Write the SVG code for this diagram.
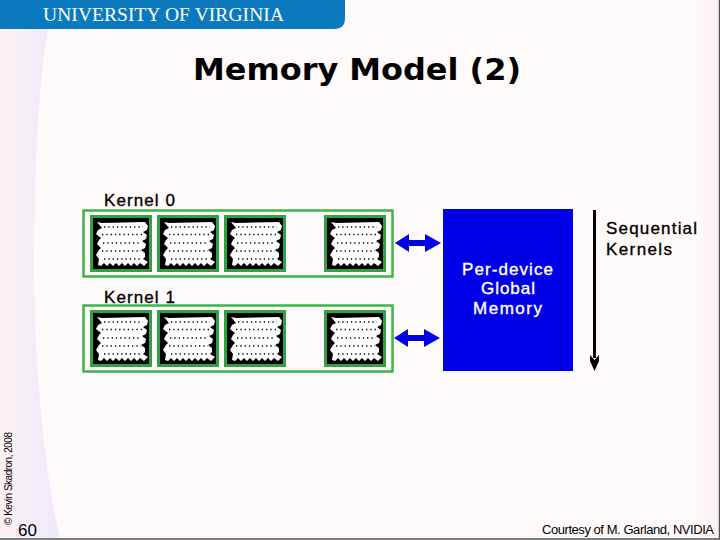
<svg xmlns="http://www.w3.org/2000/svg" xmlns:xlink="http://www.w3.org/1999/xlink" width="720" height="540" viewBox="0 0 720 540">
<style>
.sans{font-family:"Liberation Sans",Arial,sans-serif;fill:#000}
.lbl{font-size:17px;stroke:#000;stroke-width:.35px}
.inv{fill:#fff;stroke:#fff}
.outer{fill:none;stroke:#3cb44a;stroke-width:2.5}
.chip{fill:#000;stroke:#32a044;stroke-width:3}
.wave{fill:#fff}
.dots{fill:none;stroke:#000;stroke-width:1.5;stroke-dasharray:1.3 3}
</style>
<defs>
<linearGradient id="band" x1="0" x2="1" y1="0" y2="0"><stop offset="0" stop-color="#fdf2f6"/><stop offset="1" stop-color="#ece9fa"/></linearGradient>
<linearGradient id="rband" x1="0" x2="1" y1="0" y2="0"><stop offset="0" stop-color="#fffafa"/><stop offset="1" stop-color="#fbf0f3"/></linearGradient>
<g id="chip">
<rect class="chip" x="1.500" y="1.500" width="59" height="54"/>
<path class="wave" d="M7 7 L12 8 L55 7 L58 11 L57 15 L53 17 L57 20 L56 24 L52 26 L56 29 L55 33 L51 35 L55 38 L55 42 L53 44 L58 47 L54 51 L50 48 L47 51 L44 48 L41 51 L38 48 L35 51 L32 48 L29 51 L26 48 L23 51 L20 48 L17 51 L14 48 L11 51 L8 50 L9 44 L6 40 L9 35 L11 33 L7 29 L9 25 L11 23 L6 19 L8 15 L12 13 Z"/>
<path class="dots" d="M14 12H53M12 19.500H52M13 28H51M12 36H51M14 44H50"/>
</g>
<g id="dbl"><path fill="#0000e6" d="M0 0 L14 -9 L14 -3 L30 -3 L30 -9 L46 0 L30 9 L30 3 L14 3 L14 9 Z"/></g>
</defs>
<rect id="bg" width="720" height="540" fill="#fffafa"/>
<rect id="rightband" x="695" y="0" width="25" height="540" fill="url(#rband)"/>
<path id="leftband" d="M0 29H48C38 90 35 160 34 260C34 350 42 460 60 538H0Z" fill="url(#band)"/>
<path id="header" d="M0 0H345V18Q345 29 334 29H0Z" fill="#0a79bd"/>
<text x="43" y="21" font-family="'Liberation Serif',serif" font-size="19.5" fill="#fff" textLength="241">UNIVERSITY OF VIRGINIA</text>
<text x="193" y="80" font-family="'DejaVu Sans',sans-serif" font-weight="700" font-size="30" fill="#000" textLength="328" lengthAdjust="spacingAndGlyphs">Memory Model (2)</text>
<g id="kernel0">
<text class="sans lbl" x="104" y="206" textLength="71">Kernel 0</text>
<rect class="outer" x="83.500" y="210.500" width="309" height="66"/>
<use xlink:href="#chip" href="#chip" x="90" y="215"/>
<use xlink:href="#chip" href="#chip" x="157" y="215"/>
<use xlink:href="#chip" href="#chip" x="224" y="215"/>
<use xlink:href="#chip" href="#chip" x="324" y="215"/>
</g>
<g id="kernel1">
<text class="sans lbl" x="104" y="303" textLength="71">Kernel 1</text>
<rect class="outer" x="83.500" y="305.500" width="309" height="66"/>
<use xlink:href="#chip" href="#chip" x="90" y="310"/>
<use xlink:href="#chip" href="#chip" x="157" y="310"/>
<use xlink:href="#chip" href="#chip" x="224" y="310"/>
<use xlink:href="#chip" href="#chip" x="324" y="310"/>
</g>
<g id="memory">
<rect x="443" y="209" width="130" height="162" fill="#0000e6"/>
<text class="sans lbl inv" x="462" y="275" textLength="91">Per-device</text>
<text class="sans lbl inv" x="481" y="294" textLength="54">Global</text>
<text class="sans lbl inv" x="473" y="314" textLength="69">Memory</text>
</g>
<g id="connectors">
<use xlink:href="#dbl" href="#dbl" x="395" y="243"/>
<use xlink:href="#dbl" href="#dbl" x="394" y="338"/>
<path d="M594.500 210V358" stroke="#000" stroke-width="3" fill="none"/>
<path d="M590 355L594.500 360L599 355L599 361L594.500 371L590 361Z" fill="#000"/>
</g>
<g id="sequential">
<text class="sans lbl" x="606" y="234" textLength="91">Sequential</text>
<text class="sans lbl" x="606" y="255" textLength="66">Kernels</text>
</g>
<text class="sans" transform="translate(12 525) rotate(-90)" font-size="10" textLength="93">© Kevin Skadron, 2008</text>
<text x="18" y="536" font-family="'Liberation Sans',sans-serif" font-size="17" fill="#000">60</text>
<text class="sans" x="542" y="534" font-size="13" textLength="172">Courtesy of M. Garland, NVIDIA</text>
<path id="edge" d="M0 539H719.500V0" fill="none" stroke="#555" stroke-width="1.500"/>
</svg>
